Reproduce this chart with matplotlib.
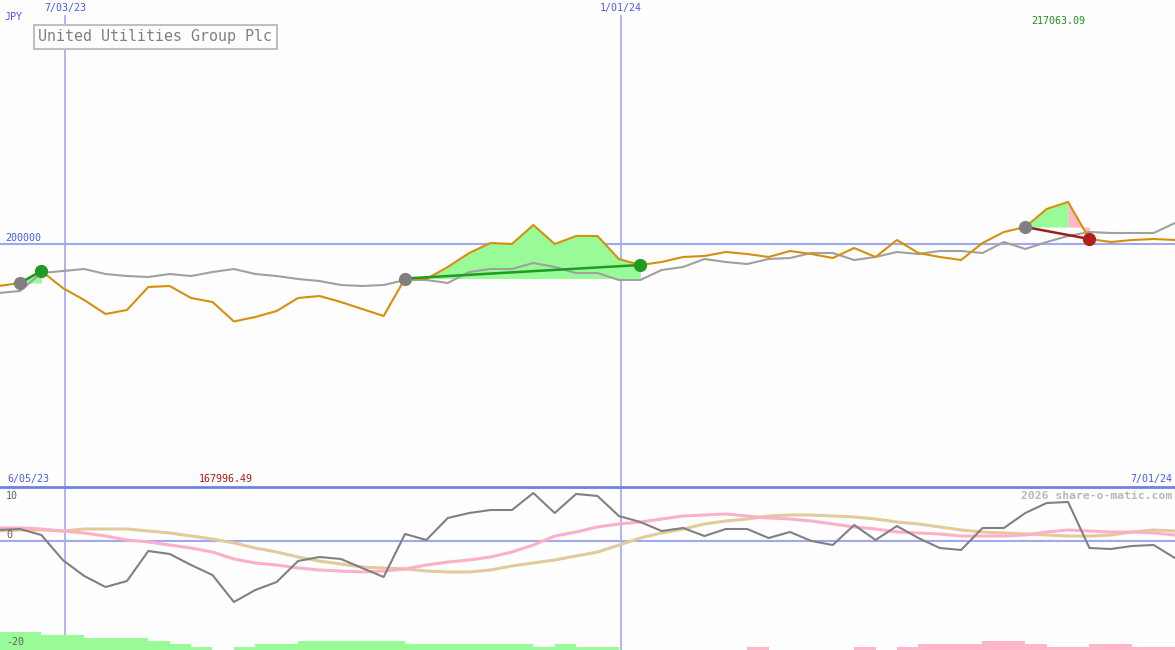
import matplotlib
matplotlib.use('Agg')
import matplotlib.pyplot as plt
import numpy as np

W, H = 1175, 650

# weekly points, index 0 = first signal week
weeks = np.arange(-1, 55)

price = [182545, 183777, 188706, 181724, 176795, 171046, 172688, 182135, 182545, 177617,
         175974, 167996.49, 169814, 172278, 177617, 178438, 175974, 173099, 170224, 185625,
         185420, 190349, 196098, 200205, 199795, 207598, 199795, 203080, 203080, 193634,
         191170, 192402, 194456, 194866, 196509, 195688, 194456, 196920, 195688, 194045,
         198152, 194456, 201437, 196098, 194456, 193223, 200205, 204723, 206777, 214169,
         217063.09, 201848, 200616, 201437, 201848, 201437]

avg = [179670, 180492, 187884, 188706, 189527, 187474, 186652, 186242, 187474, 186652,
       188295, 189527, 187474, 186652, 185420, 184599, 182956, 182545, 182956, 185009,
       185009, 183777, 188295, 189527, 189527, 191991, 190349, 187884, 187884, 185009,
       185009, 189116, 190349, 193634, 192402, 191581, 193634, 194045, 196098, 196098,
       193223, 194456, 196509, 195688, 196920, 196920, 196098, 200616, 197741, 200616,
       203080, 204723, 204312, 204312, 204312, 208419]

osc = [2.06, 2.24, 1.12, -3.55, -6.54, -8.60, -7.48, -1.87, -2.43, -4.49,
       -6.36, -11.40, -9.16, -7.66, -3.74, -2.99, -3.36, -5.05, -6.73, 1.31,
       0.19, 4.30, 5.23, 5.79, 5.79, 8.97, 5.23, 8.79, 8.41, 4.67,
       3.55, 1.87, 2.43, 0.93, 2.24, 2.24, 0.56, 1.68, 0.00, -0.75,
       2.99, 0.19, 2.80, 0.56, -1.31, -1.68, 2.43, 2.43, 5.23, 7.10,
       7.29, -1.31, -1.50, -0.93, -0.75, -3.18]

osc_fast = [2.43, 2.43, 2.24, 1.87, 1.50, 0.93, 0.19, -0.19, -0.75, -1.31,
            -2.06, -3.36, -4.11, -4.49, -5.05, -5.42, -5.61, -5.79, -5.61, -5.23,
            -4.49, -3.93, -3.55, -2.99, -2.06, -0.75, 0.93, 1.68, 2.62, 3.18,
            3.55, 4.11, 4.67, 4.86, 5.05, 4.67, 4.30, 4.11, 3.74, 3.18,
            2.62, 2.24, 1.68, 1.50, 1.31, 0.93, 0.93, 0.93, 1.12, 1.68,
            2.06, 1.87, 1.68, 1.68, 1.50, 1.12]

osc_slow = [1.87, 2.06, 2.06, 1.87, 2.24, 2.24, 2.24, 1.87, 1.50, 0.93,
            0.37, -0.37, -1.31, -2.06, -2.99, -3.74, -4.30, -4.86, -5.05, -5.23,
            -5.61, -5.79, -5.79, -5.42, -4.67, -4.11, -3.55, -2.80, -2.06, -0.75,
            0.56, 1.50, 2.24, 3.18, 3.74, 4.11, 4.67, 4.86, 4.86, 4.67,
            4.49, 4.11, 3.55, 3.18, 2.62, 2.06, 1.68, 1.50, 1.31, 1.12,
            0.93, 0.93, 1.12, 1.68, 2.06, 1.87]

bar_weeks = np.arange(-1, 54)
bar_levels = [6, 6, 5, 5, 4, 4, 4, 3, 2, 1, 0, 1, 2, 2, 3, 3, 3, 3, 3, 2,
              2, 2, 2, 2, 2, 1, 2, 1, 1, 0, 0, 0, 0, 0, 0, -1, 0, 0, 0, 0,
              -1, 0, -1, -2, -2, -2, -3, -3, -2, -1, -1, -2, -2, -1, -1]

buy_weeks = [0, 18, 47]
sell_weeks = [1, 29, 50]
date_lines = [2.1, 28.1]
date_labels = ['7/03/23', '1/01/24']

BG = '#fdfefd'
ORANGE = '#d4900c'
GRID = '#a0a8f0'
BLUE_TXT = '#4a5ae8'

price = np.array(price)
fig = plt.figure(figsize=(W / 100, H / 100), dpi=100, facecolor=BG)
ax = fig.add_axes([0, 163 / H, 1, 487 / H])
axb = fig.add_axes([0, 0, 1, 163 / H])
for a in (ax, axb):
    a.set_facecolor(BG)
    a.axis('off')
    a.set_xlim(-0.935, 54.0)

ax.set_ylim(100000, 300000)
axb.set_ylim(-20.37, 10.09)

# grid lines
ax.axhline(200000, color=GRID, lw=1.5, zorder=1)
for d in date_lines:
    ax.axvline(d, ymin=0, ymax=1 - 16 / 487, color=GRID, lw=1.2, zorder=1)
    axb.axvline(d, color=GRID, lw=1.2, zorder=1)
axb.axhline(0, color=GRID, lw=1.5, zorder=1)
axb.axhline(10.09, color='#7080e8', lw=2, zorder=5, clip_on=False)

# trade fills and trend lines
for b, s in zip(buy_weeks, sell_weeks):
    i0, i1 = b + 1, s + 1
    entry = price[i0]
    win = price[i1] >= entry
    if win:
        ax.fill_between(weeks[i0:i1 + 1], price[i0:i1 + 1], entry, color='#98fb98',
                        lw=0, zorder=2)
    else:
        peak = i0 + int(np.argmax(price[i0:i1 + 1]))
        ax.fill_between(weeks[i0:peak + 1], price[i0:peak + 1], entry, color='#98fb98',
                        lw=0, zorder=2)
        ax.fill_between(weeks[peak:i1 + 1], price[peak:i1 + 1], entry, color='#ffb6c8',
                        lw=0, zorder=2)

ax.plot(weeks, avg, color='#a0a0a0', lw=1.5, zorder=3)
ax.plot(weeks, price, color=ORANGE, lw=1.5, zorder=4)

for b, s in zip(buy_weeks, sell_weeks):
    i0, i1 = b + 1, s + 1
    win = price[i1] >= price[i0]
    col = '#209a20' if win else '#a01c1c'
    ax.plot([b, s], [price[i0], price[i1]], color=col, lw=1.8, zorder=5)
    ax.plot(b, price[i0], 'o', color='#808080', ms=8.5, zorder=6)
    ax.plot(s, price[i1], 'o', color=col if win else '#b02018', ms=8.5, zorder=6)

# lower panel
axb.plot(weeks, osc_slow, color='#e2ca9a', lw=2.2, zorder=3)
axb.plot(weeks, osc_fast, color='#ffb0c8', lw=2.2, zorder=3)
axb.plot(weeks, osc, color='#808080', lw=1.5, zorder=4)

axh = axb.twinx()
axh.axis('off')
axh.set_ylim(0, 163 / 3)
lev = np.array(bar_levels)
axh.bar(bar_weeks, np.abs(lev), width=1.0, align='edge',
        color=np.where(lev > 0, '#98fb98', '#ffb6c8'), lw=0, zorder=6)


def label(x, y, s, color=BLUE_TXT, ha='left', size=7.2, weight='normal'):
    fig.text(x / W, 1 - y / H, s, color=color, ha=ha, va='center', fontsize=size,
             family='DejaVu Sans Mono', fontweight=weight)


label(5, 17, 'JPY')
for d, s in zip(date_lines, date_labels):
    label(20 + 21.39 * d, 8, s, ha='center')
label(1031, 21, '217063.09', color='#209020')
label(5, 238, '200000')
label(7, 479, '6/05/23')
label(199, 479, '167996.49', color='#a01818')
label(1172, 479, '7/01/24', ha='right')
label(6, 496, '10', color='#606060')
label(6, 535, '0', color='#606060')
label(6, 642, '-20', color='#606060')
label(1172, 496, '2026 share-o-matic.com', color='#b8b8b8', ha='right', size=8.2,
      weight='bold')

fig.text(38 / W, 1 - 36.5 / H, 'United Utilities Group Plc', color='#808080',
         ha='left', va='center', fontsize=10.8, family='DejaVu Sans Mono',
         bbox=dict(boxstyle='square,pad=0.3', fc=BG, ec='#c0c0c0', lw=1.5))

fig.savefig('out.png', dpi=100, facecolor=BG)
